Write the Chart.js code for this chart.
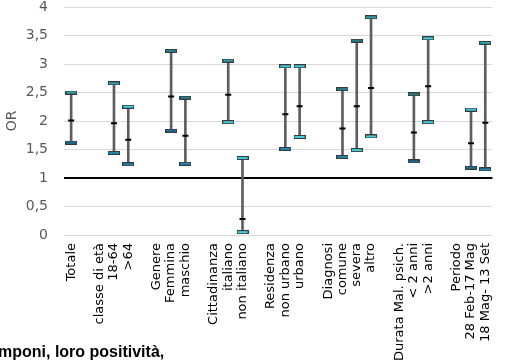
<!DOCTYPE html>
<html>
<head>
<meta charset="utf-8">
<script src="https://cdn.jsdelivr.net/npm/chart.js@4/dist/chart.umd.min.js"></script>
<style>
  html, body { margin: 0; padding: 0; background: #ffffff; }
  #wrap { position: relative; width: 509px; height: 364px; overflow: hidden; }
  #chart { display: block; }
  #caption {
    position: absolute; left: -2px; top: 343px;
    font-family: "Liberation Sans", Arial, sans-serif; font-weight: bold;
    font-size: 16px; line-height: 18px; color: #000; white-space: nowrap;
  }
</style>
</head>
<body>
<div id="wrap">
  <canvas id="chart" width="509" height="364"></canvas>
  <div id="caption">mponi, loro positività,</div>
</div>
<script>
// Odds ratios with confidence intervals, grouped by subgroup (blank slots separate groups)
const categories = [
  'Totale', '',
  'classe di età', '18-64', '>64', '',
  'Genere', 'Femmina', 'maschio', '',
  'Cittadinanza', 'italiano', 'non italiano', '',
  'Residenza', 'non urbano', 'urbano', '',
  'Diagnosi', 'comune', 'severa', 'altro', '',
  'Durata Mal. psich.', '< 2 anni', '>2 anni', '',
  'Periodo', '28 Feb-17 Mag', '18 Mag- 13 Set'
];

const upperCI = [
  2.50, null,
  null, 2.66, 2.25, null,
  null, 3.23, 2.41, null,
  null, 3.06, 1.35, null,
  null, 2.96, 2.96, null,
  null, 2.56, 3.41, 3.82, null,
  null, 2.47, 3.45, null,
  null, 2.20, 3.37
];

const oddsRatio = [
  2.01, null,
  null, 1.96, 1.67, null,
  null, 2.43, 1.74, null,
  null, 2.46, 0.28, null,
  null, 2.12, 2.26, null,
  null, 1.87, 2.26, 2.58, null,
  null, 1.80, 2.61, null,
  null, 1.61, 1.97
];

const lowerCI = [
  1.62, null,
  null, 1.44, 1.24, null,
  null, 1.83, 1.25, null,
  null, 1.98, 0.05, null,
  null, 1.51, 1.72, null,
  null, 1.37, 1.49, 1.73, null,
  null, 1.29, 1.98, null,
  null, 1.18, 1.15
];

const yTicks = [0, 0.5, 1, 1.5, 2, 2.5, 3, 3.5, 4];

// Cap tones
const DT = '#24808b', TL = '#2ba5b5', CY = '#41cfe2', BL = '#1f88b2', DB = '#1b6f95';
const upperTone = [
  TL, null, null, TL, CY, null, null, DT, DT, null, null, TL, CY, null,
  null, CY, CY, null, null, DT, DT, TL, null, null, DT, CY, null, null, CY, TL
];
const lowerTone = [
  DB, null, null, BL, BL, null, null, DB, BL, null, null, CY, CY, null,
  null, BL, CY, null, null, BL, CY, CY, null, null, DB, CY, null, null, DB, BL
];

function capImage(color) {
  const c = document.createElement('canvas');
  c.width = 12; c.height = 4;
  const g = c.getContext('2d');
  g.fillStyle = '#3a3a3a';
  g.fillRect(0, 0, 12, 4);
  g.fillStyle = color || '#2ba5b5';
  g.fillRect(1, 1, 10, 2);
  return c;
}

const intervals = lowerCI.map((lo, i) => (lo == null ? null : [lo, upperCI[i]]));

const FONT = '"DejaVu Sans", sans-serif';

new Chart(document.getElementById('chart'), {
  type: 'bar',
  data: {
    labels: categories,
    datasets: [
      {
        label: 'IC',
        data: intervals,
        barThickness: 2,
        backgroundColor: '#5e5e5e',
        borderWidth: 0,
        order: 3
      },
      {
        type: 'line',
        label: 'sup',
        data: upperCI,
        showLine: false,
        pointStyle: upperTone.map(capImage),
        pointRadius: 6,
        order: 1
      },
      {
        type: 'line',
        label: 'inf',
        data: lowerCI,
        showLine: false,
        pointStyle: lowerTone.map(capImage),
        pointRadius: 6,
        order: 1
      },
      {
        type: 'line',
        label: 'OR',
        data: oddsRatio,
        showLine: false,
        pointStyle: 'line',
        pointRadius: 3,
        borderColor: '#000000',
        pointBorderWidth: 2,
        order: 0
      }
    ]
  },
  options: {
    responsive: false,
    devicePixelRatio: 1,
    animation: false,
    layout: { padding: { left: 0, right: 1, top: 0, bottom: 0 } },
    plugins: { legend: { display: false }, tooltip: { enabled: false } },
    scales: {
      x: {
        offset: true,
        grid: { display: false, drawTicks: false },
        border: { display: false },
        ticks: {
          autoSkip: false,
          minRotation: 90,
          maxRotation: 90,
          padding: 8,
          color: '#000000',
          font: { family: FONT, size: 13 }
        },
        afterFit: (axis) => {
          axis.height = 129;
          axis.paddingTop = 0;
          axis.paddingBottom = 0;
        }
      },
      y: {
        min: 0,
        max: 4,
        afterBuildTicks: (axis) => { axis.ticks = yTicks.map(v => ({ value: v })); },
        grid: {
          drawTicks: false,
          color: (ctx) => (ctx.tick && ctx.tick.value === 1 ? '#000000' : '#d9d9d9'),
          lineWidth: (ctx) => (ctx.tick && ctx.tick.value === 1 ? 2 : 1)
        },
        border: { display: false },
        ticks: {
          padding: 16,
          color: '#595959',
          font: { family: FONT, size: 14 },
          callback: (v) => String(v).replace('.', ',')
        },
        title: {
          display: true,
          text: 'OR',
          color: '#595959',
          font: { family: FONT, size: 14 },
          padding: { top: 4, bottom: 0 }
        },
        afterFit: (axis) => {
          axis.width = 64;
          axis.paddingTop = 7;
          axis.paddingBottom = 0;
        }
      }
    }
  }
});
</script>
</body>
</html>
